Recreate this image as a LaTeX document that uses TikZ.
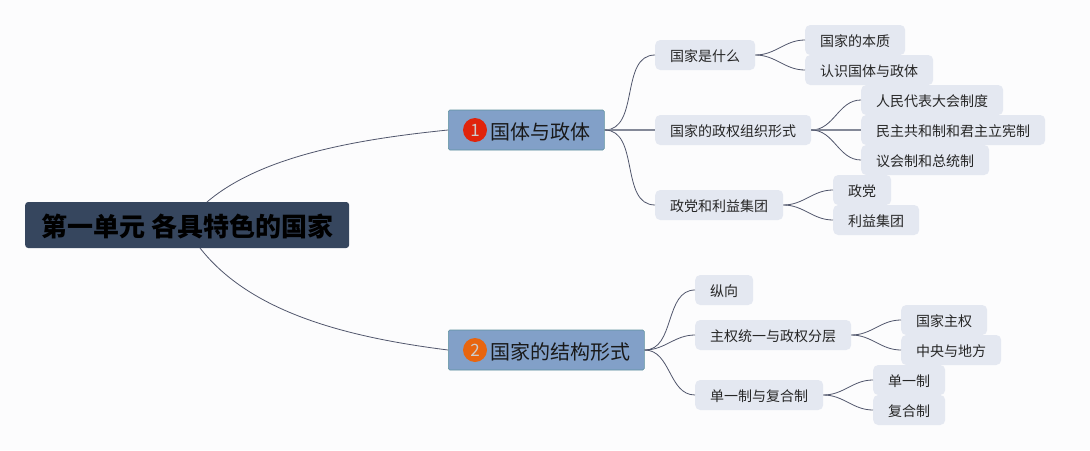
\documentclass[tikz,border=0pt]{standalone}
\usepackage{fontspec}
\setmainfont{Noto Sans CJK SC}
\definecolor{paper}{HTML}{FCFCFD}
\definecolor{rootfill}{HTML}{36465E}
\definecolor{mainfill}{HTML}{82A0C8}
\definecolor{mainline}{HTML}{5F929E}
\definecolor{subfill}{HTML}{E4E8F1}
\definecolor{linkline}{HTML}{50566C}
\definecolor{badgered}{HTML}{E0240C}
\definecolor{badgeorange}{HTML}{E8650F}
\tikzset{
    rootbox/.style={anchor=west, fill=rootfill, rounded corners=3pt, inner xsep=16pt, inner ysep=0pt,
                    minimum height=46pt, text height=23pt, text depth=1pt,
                    font=\fontsize{26}{26}\selectfont\bfseries, text=black},
    mainbox/.style={anchor=west, fill=mainfill, draw=mainline, line width=0.6pt, rounded corners=1.5pt,
                    inner xsep=14pt, inner ysep=0pt, minimum height=40pt, text height=19.6pt, text depth=1.6pt,
                    font=\fontsize{20}{20}\selectfont, text=black!90},
    subbox/.style={anchor=west, fill=subfill, rounded corners=5pt, inner xsep=15pt, inner ysep=0pt,
                   minimum height=30pt, text height=16pt, text depth=2.2pt,
                   font=\fontsize{14}{14}\selectfont, text=black!85},
    badge/.style={circle, inner sep=0pt, minimum size=24pt, text=white!80!black, font=\fontsize{17}{17}\selectfont},
    link/.style={draw=linkline, line width=0.8pt},
    flatlink/.style={draw=linkline!70, line width=1.2pt},
}
\begin{document}
\begin{tikzpicture}[x=1pt, y=-1pt]
    \useasboundingbox[fill=paper] (0,0) rectangle (1090,450);

    \node[rootbox] (danyuan) at (25,225) {第一单元 各具特色的国家};
    \coordinate (rootup) at (207,202);
    \coordinate (rootdown) at (200,248);

    % first branch
    \node[mainbox] (guoti) at (448,130) {\hspace*{28pt}国体与政体};
    \node[badge, fill=badgered] (one) at ([xshift=27pt]guoti.west) {1};

    \node[subbox] (shishenme) at (655,55) {国家是什么};
    \node[subbox] (zuzhi) at (655,130) {国家的政权组织形式};
    \node[subbox] (zhengdang) at (655,205) {政党和利益集团};

    \node[subbox] (benzhi) at (805,40) {国家的本质};
    \node[subbox] (renshi) at (805,70) {认识国体与政体};
    \node[subbox] (renda) at (861,100) {人民代表大会制度};
    \node[subbox] (junzhu) at (861,130) {民主共和制和君主立宪制};
    \node[subbox] (yihui) at (861,160) {议会制和总统制};
    \node[subbox] (dang) at (833,190) {政党};
    \node[subbox] (liyi) at (833,220) {利益集团};

    % second branch
    \node[mainbox] (jiegou) at (448,350) {\hspace*{28pt}国家的结构形式};
    \node[badge, fill=badgeorange] (two) at ([xshift=27pt]jiegou.west) {2};

    \node[subbox] (zongxiang) at (695,290) {纵向};
    \node[subbox] (fenceng) at (695,335) {主权统一与政权分层};
    \node[subbox] (fuhe) at (695,395) {单一制与复合制};

    \node[subbox] (zhuquan) at (901,320) {国家主权};
    \node[subbox] (difang) at (901,350) {中央与地方};
    \node[subbox] (danyi) at (873,380) {单一制};
    \node[subbox] (fuhezhi) at (873,410) {复合制};

    \draw[link] (rootup) .. controls (262,155) and (360,139) .. (guoti.west);
    \draw[link] (rootdown) .. controls (250,312) and (345,337) .. (jiegou.west);

    \draw[link] (guoti.east) to[out=0, in=180] (shishenme.west);
    \draw[flatlink] (guoti.east) -- (zuzhi.west);
    \draw[link] (guoti.east) to[out=0, in=180] (zhengdang.west);
    \draw[link] (shishenme.east) to[out=0, in=180] (benzhi.west);
    \draw[link] (shishenme.east) to[out=0, in=180] (renshi.west);
    \draw[link] (zuzhi.east) to[out=0, in=180] (renda.west);
    \draw[flatlink] (zuzhi.east) -- (junzhu.west);
    \draw[link] (zuzhi.east) to[out=0, in=180] (yihui.west);
    \draw[link] (zhengdang.east) to[out=0, in=180] (dang.west);
    \draw[link] (zhengdang.east) to[out=0, in=180] (liyi.west);

    \draw[link] (jiegou.east) to[out=0, in=180] (zongxiang.west);
    \draw[link] (jiegou.east) to[out=0, in=180] (fenceng.west);
    \draw[link] (jiegou.east) to[out=0, in=180] (fuhe.west);
    \draw[link] (fenceng.east) to[out=0, in=180] (zhuquan.west);
    \draw[link] (fenceng.east) to[out=0, in=180] (difang.west);
    \draw[link] (fuhe.east) to[out=0, in=180] (danyi.west);
    \draw[link] (fuhe.east) to[out=0, in=180] (fuhezhi.west);
\end{tikzpicture}
\end{document}
